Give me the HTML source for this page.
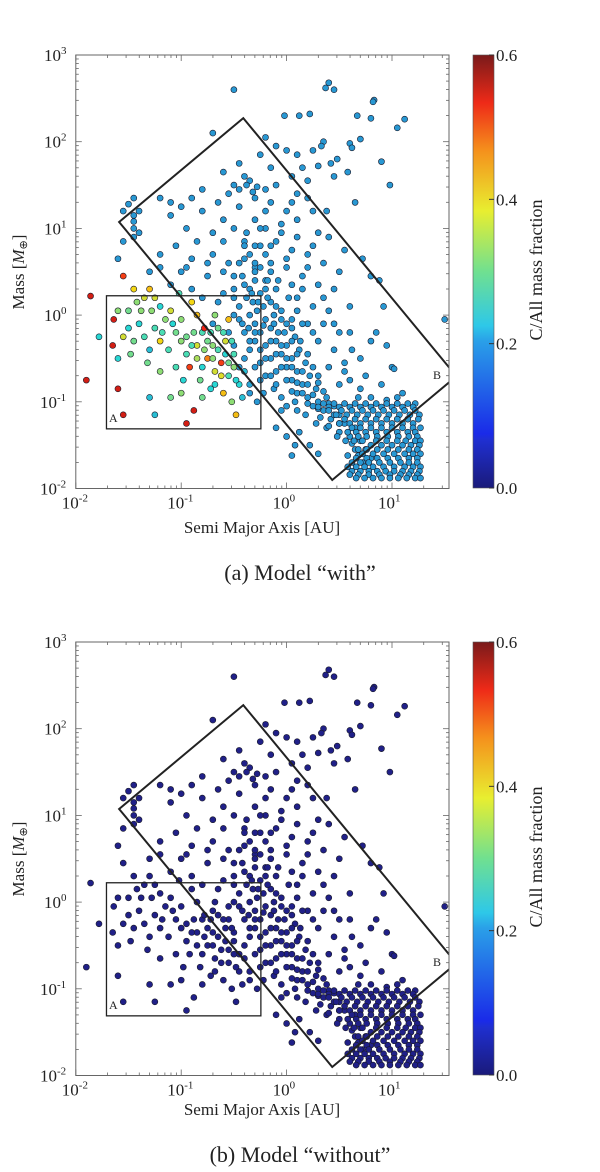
<!DOCTYPE html>
<html><head><meta charset="utf-8"><style>
body{margin:0;background:#fff;width:600px;height:1167px;overflow:hidden}
svg text{font-family:"Liberation Serif",serif;fill:#222}
</style></head><body>
<svg id="fig" width="600" height="1167" xmlns="http://www.w3.org/2000/svg">
<defs>
<linearGradient id="jet" x1="0" y1="1" x2="0" y2="0">
<stop offset="0" stop-color="#1a1a7a"/><stop offset="0.11" stop-color="#1f2fd0"/><stop offset="0.125" stop-color="#1a2ae8"/>
<stop offset="0.34" stop-color="#2aa0e8"/><stop offset="0.375" stop-color="#2ec8e8"/><stop offset="0.5" stop-color="#70e090"/>
<stop offset="0.64" stop-color="#e8ee30"/><stop offset="0.78" stop-color="#f5901c"/><stop offset="0.89" stop-color="#ee2a18"/>
<stop offset="1" stop-color="#7a1a1a"/></linearGradient>
<clipPath id="clipA"><rect x="75.8" y="55" width="373.2" height="433.5"/></clipPath>
<clipPath id="clipB"><rect x="75.8" y="642" width="373.2" height="433.5"/></clipPath>
</defs>
</svg>
<script>
const logA=[-0.5,0.4,0.37,0.45,0.83,0.82,1.12,1.05,-0.02,0.12,0.22,0.67,0.8,0.35,0.33,0.6,0.7,0.62,0.9,0.98,0.48,0.42,0.25,0.3,0.58,0.2,0.45,0.1,0.2,0.38,0.65,0.4,0.55,0.72,0.88,0.8,0.92,0.85,0.95,1.0,1.02,1.5,0.6,0.5,0.35,0.62,0.7,0.8,0.75,1.05,1.1,0.9,0.7,
-0.7,-0.2,-0.1,0.0,-0.25,-0.6,-0.4,-0.35,-0.2,-0.1,0.05,0.15,-0.5,-0.45,-0.38,-0.32,-0.55,-0.28,-0.15,0.05,0.25,-0.9,-1.0,-1.2,-1.45,-1.55,-1.45,-1.45,-1.45,-1.4,-0.8,-0.6,-0.5,-0.3,-0.2,-0.05,0.1,0.3,-0.7,-0.95,-1.1,-0.4,-0.25,-0.1,0.05,0.2,0.35,-0.85,-1.05,-1.2,-0.9,-0.7,-0.55,-0.4,-0.3,-0.15,0.0,0.15,0.3,0.45,-1.3,-1.55,-1.6,-1.0,-0.75,-0.5,-0.2,0.1,0.25,0.4,0.2,0.05,0.3,0.45,0.55,0.4,0.6,0.5,0.3,-0.9,-1.1,-0.6,-0.8,
-1.5,-1.45,-1.4,-1.1,-0.8,-0.65,-0.45,-0.2,0.0,-0.3,-0.6,-0.75,-0.95,-1.2,-0.05,0.1,0.2,0.35,0.45,0.6,0.55,0.68,0.8,0.95,0.5,0.25,-0.45,-0.15,0.1,
-0.4,-0.35,-0.3,-0.38,-0.32,-0.25,-0.2,-0.28,-0.22,-0.15,-0.35,-0.3,-0.2,-0.12,-0.05,-0.25,-0.15,-0.08,0.0,-0.3,-0.2,-0.1,0.0,0.08,-0.15,-0.05,0.05,0.12,-0.1,0.0,0.1,0.18,0.05,0.15,0.22,0.1,0.2,0.28,0.3,0.38,0.25,0.35,0.45,0.42,0.5,0.55,0.5,0.6,0.65,0.7,0.75,0.65,0.8,0.72,-0.45,-0.45,-0.5,-0.4,-0.35,-0.25,-0.2,-0.12,-0.05,0.0,0.1,0.18,0.28,0.38,-0.3,-0.4,-0.22,0.12,0.02,0.1,0.15,0.25,0.15,-0.08,0.05,-0.15,-0.25,-0.3,-0.2,-0.35,-0.3,-0.38,-0.25,0.22,0.3,0.08,
-0.42,-0.3,-0.18,-0.1,-0.33,-0.27,-0.18,-0.1,-0.05,-0.42,-0.36,-0.3,-0.22,-0.12,-0.02,0.05,-0.35,-0.25,-0.15,-0.05,0.05,0.13,-0.2,-0.1,0.0,0.1,0.2,-0.05,0.05,0.15,0.25,0.0,0.1,0.2,0.3,0.05,0.15,0.25,0.35,0.2,0.3,0.4,0.32,0.45,0.4,0.5,0.48,0.56,0.62,0.58,0.68,-0.1,-0.15,-0.25,0.08,-0.05,-0.5,-0.55,-0.5,-0.45,-0.35,-0.28,-0.45,-0.4,-0.15,0.0,-0.5,-0.6,-0.65,-0.7,
0.35,0.45,0.55,0.65,0.75,0.85,0.95,1.05,1.15,1.22,
0.3,0.4,0.5,0.6,0.7,0.8,0.9,1.0,1.1,1.2,
0.4,0.52,0.62,0.72,0.82,0.92,1.02,1.12,1.22,
0.47,0.57,0.67,0.77,0.87,0.97,1.07,1.17,1.26,
0.55,0.65,0.75,0.85,0.95,1.05,1.15,1.25,
0.5,0.6,0.7,0.8,0.9,1.0,1.1,1.2,
0.62,0.7,0.8,0.9,1.0,1.1,1.2,1.27,
0.58,0.66,0.75,0.85,0.95,1.05,1.15,1.22,
0.68,0.76,0.86,0.96,1.06,1.16,1.24,
0.64,0.72,0.85,0.95,1.05,1.13,1.22,1.27,
0.8,0.9,1.0,1.1,1.18,1.26,
0.68,0.76,0.86,0.96,1.06,1.16,1.24,
0.72,0.82,0.92,1.02,1.12,1.2,1.27,
0.66,0.76,0.86,0.96,1.06,1.16,1.24,
0.62,0.7,0.78,0.88,0.98,1.08,1.16,1.24,
0.58,0.66,0.74,0.82,0.92,1.02,1.12,1.2,1.27,
0.62,0.7,0.78,0.86,0.94,1.02,1.1,1.18,1.26,
0.6,0.68,0.78,0.88,0.98,1.08,1.16,1.24,
0.66,0.74,0.82,0.9,0.98,1.06,1.14,1.22,1.27,
0.0,-0.1,0.05];
const logM=[2.6,2.68,2.62,2.6,2.48,2.46,2.26,2.16,2.3,2.3,2.32,2.3,2.27,2.0,1.95,1.98,2.03,1.93,1.77,1.5,1.8,1.75,1.9,1.72,1.65,1.55,1.6,1.4,1.35,1.2,1.3,0.9,0.75,0.65,0.4,0.45,0.1,-0.2,-0.35,-0.6,-0.62,-0.05,0.1,-0.2,-0.1,-0.4,-0.5,-0.3,-0.7,-0.95,-0.9,-0.8,-0.85,
2.1,2.05,1.95,1.9,1.85,1.65,1.6,1.55,1.45,1.5,1.6,1.7,1.5,1.45,1.5,1.42,1.4,1.48,1.3,1.3,1.2,1.35,1.25,1.35,1.35,1.2,1.15,1.0,0.9,1.2,1.2,1.1,1.0,1.1,1.0,1.05,1.1,0.95,0.95,1.0,1.15,0.85,0.8,0.85,0.75,0.7,0.6,0.85,0.8,0.7,0.65,0.7,0.6,0.65,0.55,0.6,0.55,0.45,0.35,0.3,0.5,0.85,0.65,0.5,0.45,0.45,0.4,0.2,0.1,0.05,-0.1,-0.05,-0.3,-0.4,-0.55,-0.6,-0.75,-0.8,-0.7,0.3,0.35,0.25,0.2,
1.28,1.08,0.95,1.3,1.45,1.3,1.25,1.2,1.2,1.35,0.85,0.6,0.55,0.55,0.95,0.9,0.55,0.2,-0.1,-0.2,-0.65,-0.95,-0.95,-0.98,0.5,0.8,1.75,1.7,1.85,
0.35,0.3,0.4,0.2,0.15,0.25,0.3,0.05,0.1,0.15,0.0,-0.1,-0.05,0.0,0.05,-0.2,-0.15,-0.2,-0.1,-0.3,-0.35,-0.3,-0.35,-0.25,-0.5,-0.45,-0.5,-0.4,-0.65,-0.6,-0.65,-0.55,-0.75,-0.8,-0.7,-0.9,-0.95,-0.85,-1.0,-0.95,-1.05,-1.1,-1.05,-1.2,-1.15,-1.25,-1.35,-1.4,-1.3,-1.45,-1.55,-1.55,-1.65,-1.7,-0.05,0.1,0.2,-0.2,-0.4,-0.55,-0.7,-0.85,-0.95,-1.05,-1.1,-1.15,-1.25,-1.3,-0.6,-0.5,-0.9,-1.35,0.2,0.05,-0.1,-0.2,0.3,0.4,0.35,0.5,0.55,0.6,0.7,0.7,0.8,0.95,1.0,-1.5,-1.6,-1.5,
0.45,0.5,0.4,0.3,0.25,0.15,0.2,0.1,-0.05,-0.1,-0.15,-0.2,-0.12,-0.1,-0.2,-0.15,-0.3,-0.4,-0.3,-0.35,-0.3,-0.3,-0.5,-0.45,-0.5,-0.45,-0.45,-0.6,-0.6,-0.65,-0.6,-0.75,-0.78,-0.8,-0.78,-0.88,-0.9,-0.92,-0.88,-1.02,-1.08,-1.02,-1.18,-1.15,-1.28,-1.25,-1.4,-1.45,-1.48,-1.62,-1.62,-0.8,-0.7,-0.75,-1.0,-1.1,0.0,-0.2,-0.35,-0.6,-0.9,-1.0,0.6,0.8,0.8,0.65,0.3,0.5,0.15,-0.1,
-1.02,-1.02,-1.02,-1.02,-1.02,-1.02,-1.02,-1.02,-1.02,-1.02,
-1.06,-1.06,-1.06,-1.06,-1.06,-1.06,-1.06,-1.06,-1.06,-1.06,
-1.1,-1.1,-1.1,-1.1,-1.1,-1.1,-1.1,-1.1,-1.1,
-1.15,-1.15,-1.15,-1.15,-1.15,-1.15,-1.15,-1.15,-1.15,
-1.2,-1.2,-1.2,-1.2,-1.2,-1.2,-1.2,-1.2,
-1.25,-1.25,-1.25,-1.25,-1.25,-1.25,-1.25,-1.25,
-1.3,-1.3,-1.3,-1.3,-1.3,-1.3,-1.3,-1.3,
-1.35,-1.35,-1.35,-1.35,-1.35,-1.35,-1.35,-1.35,
-1.4,-1.4,-1.4,-1.4,-1.4,-1.4,-1.4,
-1.45,-1.45,-1.45,-1.45,-1.45,-1.45,-1.45,-1.45,
-1.5,-1.5,-1.5,-1.5,-1.5,-1.5,
-1.55,-1.55,-1.55,-1.55,-1.55,-1.55,-1.55,
-1.6,-1.6,-1.6,-1.6,-1.6,-1.6,-1.6,
-1.65,-1.65,-1.65,-1.65,-1.65,-1.65,-1.65,
-1.7,-1.7,-1.7,-1.7,-1.7,-1.7,-1.7,-1.7,
-1.75,-1.75,-1.75,-1.75,-1.75,-1.75,-1.75,-1.75,-1.75,
-1.8,-1.8,-1.8,-1.8,-1.8,-1.8,-1.8,-1.8,-1.8,
-1.84,-1.84,-1.84,-1.84,-1.84,-1.84,-1.84,-1.84,
-1.88,-1.88,-1.88,-1.88,-1.88,-1.88,-1.88,-1.88,-1.88,
-1.4,-1.3,-1.62];
// region A points: colored in model "with"
const aLogA=[-1.86,-1.64,-1.78,-1.65,-1.6,-1.55,-1.55,-1.6,-1.6,-1.5,-1.45,-1.42,-1.4,-1.35,-1.35,-1.3,-1.3,-1.28,-1.25,-1.2,-1.2,-1.15,-1.12,-1.1,-1.05,-1.0,-0.95,-0.92,-0.9,-0.85,-0.82,-0.8,-0.75,-0.72,-0.7,-0.68,-0.65,-0.62,-0.6,-0.58,-0.55,-0.52,-0.5,-0.48,-0.45,-1.25,-1.1,-1.0,-0.88,-0.95,-1.3,-1.55,-1.48,-0.78,-0.85,-1.02,-0.68,-0.55,-0.4,-0.42,-0.35,-1.9,
-1.5,-1.45,-1.38,-1.25,-1.18,-1.08,-1.0,-0.95,-0.9,-0.85,-0.8,-0.75,-0.7,-0.65,-0.62,-0.58,-0.55,-0.52,-0.5,-0.48,-0.72,-0.78,-0.88,-0.68,-0.6,-1.32,-1.2,-1.05,-0.98,-0.8];
const aLogM=[0.22,-0.05,-0.25,-0.35,-0.85,-1.15,0.45,0.05,-0.5,0.05,0.3,0.15,-0.1,0.2,-0.25,0.3,-0.4,0.05,-0.15,0.1,-0.3,-0.05,-0.4,0.05,-0.2,-0.3,-0.45,-0.6,0.15,-0.35,-0.75,-0.2,-0.5,-0.85,-0.35,-0.65,-0.15,-0.55,-0.9,-0.3,-0.7,-1.0,-0.45,-1.15,-0.8,-1.15,-0.95,-0.9,-1.1,-1.25,-0.95,-0.25,-0.45,-0.15,0.0,0.25,0.0,-0.05,-0.65,-0.95,-0.8,-0.75,
-0.15,-0.3,0.05,0.2,-0.2,-0.1,-0.05,-0.25,-0.35,-0.5,-0.6,-0.3,-0.5,-0.4,-0.7,-0.45,-0.55,-0.3,-0.6,-0.75,-0.2,-0.4,-0.2,-0.8,-0.2,-0.55,-0.65,-0.6,-0.75,-0.95];
const aFrac=[0.55,0.55,0.22,0.55,0.55,0.55,0.5,0.3,0.22,0.28,0.38,0.3,0.22,0.35,0.25,0.4,0.2,0.3,0.25,0.22,0.38,0.3,0.25,0.35,0.28,0.3,0.25,0.5,0.38,0.35,0.28,0.25,0.45,0.22,0.3,0.35,0.28,0.5,0.4,0.35,0.25,0.3,0.25,0.4,0.22,0.2,0.28,0.3,0.55,0.55,0.2,0.35,0.28,0.52,0.4,0.25,0.3,0.4,0.2,0.2,0.18,0.55,
0.22,0.28,0.3,0.35,0.25,0.22,0.3,0.28,0.25,0.32,0.22,0.28,0.3,0.25,0.36,0.22,0.28,0.25,0.3,0.22,0.25,0.3,0.28,0.22,0.25,0.28,0.3,0.25,0.22,0.28];
const mainFrac=0.17;
const yTicks=["3","2","1","0","-1","-2"];
const xTicks=["-2","-1","0","1"];
const cbTicks=["0.0","0.2","0.4","0.6"];

const NS="http://www.w3.org/2000/svg";
const svg=document.getElementById('fig');
const X0=75.8,DX=105.4,Y0=55,DY=86.7,W=373.2,H=433.5;
function xs(l){return X0+(l+2)*DX;}
function ys(l,off){return off+Y0+(3-l)*DY;}
function el(t,a,p){const e=document.createElementNS(NS,t);for(const k in a)e.setAttribute(k,a[k]);(p||svg).appendChild(e);return e;}
function jet(v){const t=Math.max(0,Math.min(1,v/0.6));
 const c=x=>Math.round(255*Math.max(0,Math.min(1,1.5-Math.abs(x))));
 let r=c(4*t-3),g=c(4*t-2),b=c(4*t-1);
 r=Math.round(r*0.8+40);g=Math.round(g*0.75+30);b=Math.round(b*0.75+20);
 return `rgb(${r},${g},${b})`;}
function panel(off,colored,cap,key,tshift){
 const g=el('g',{});
 
 
 const pts=el('g',{'clip-path':`url(#clip${key==='with'?'A':'B'})`},g);
 
 
 const mainCol=colored?jet(mainFrac):'#202088';
 for(let i=0;i<logA.length;i++){
  const c=el('circle',{cx:xs(logA[i]),cy:ys(logM[i],off),r:3,fill:mainCol,stroke:'#1a1a2a','stroke-width':0.6},pts);
  
  
 }
 for(let i=0;i<aLogA.length;i++){
  const c=el('circle',{cx:xs(aLogA[i]),cy:ys(aLogM[i],off),r:3,fill:colored?jet(aFrac[i]):'#202088',stroke:'#1a1a2a','stroke-width':0.6},pts);
  
  
 }
 const bA=el('rect',{x:xs(-1.709),y:ys(0.223,off),width:xs(-0.244)-xs(-1.709),height:ys(-1.312,off)-ys(0.223,off),fill:'none',stroke:'#222','stroke-width':1.3},g);
 
 
 const bB=el('polygon',{points:`${xs(-1.589)},${ys(1.074,off)} ${xs(-0.411)},${ys(2.272,off)} ${xs(1.611)},${ys(-0.705,off)} ${xs(0.433)},${ys(-1.902,off)}`,fill:'none',stroke:'#222','stroke-width':2,'clip-path':`url(#clip${key==='with'?'A':'B'})`},g);
 
 
 const la=el('text',{x:109,y:off+422,'font-size':12},g);la.textContent='A';
 
 
 const lb=el('text',{x:433,y:off+379,'font-size':12},g);lb.textContent='B';
 
 
 const fr=el('rect',{x:X0,y:off+Y0,width:W,height:H,fill:'none',stroke:'#666','stroke-width':1},g);
 
 
 for(let d=-2;d<=1;d++){for(let m=1;m<10;m++){const l=d+Math.log10(m);const x=xs(l);if(x>X0+W)break;const len=m===1?6:3;
  el('line',{x1:x,x2:x,y1:off+Y0+H,y2:off+Y0+H-len,stroke:'#666','stroke-width':0.8},g);
  el('line',{x1:x,x2:x,y1:off+Y0,y2:off+Y0+len,stroke:'#666','stroke-width':0.8},g);}}
 for(let d=-2;d<=2;d++){for(let m=1;m<10;m++){const y=ys(d+Math.log10(m),off);const len=m===1?6:3;
  el('line',{x1:X0,x2:X0+len,y1:y,y2:y,stroke:'#666','stroke-width':0.8},g);
  el('line',{x1:X0+W,x2:X0+W-len,y1:y,y2:y,stroke:'#666','stroke-width':0.8},g);}}
 xTicks.forEach(t=>{const x=xs(+t);const tx=el('text',{x:x-14,y:off+Y0+H+20,'font-size':17},g);
  tx.innerHTML=`10<tspan dy="-7" font-size="11">${t}</tspan>`;
  
  });
 yTicks.forEach(t=>{const y=ys(+t,off);const tx=el('text',{x:t.startsWith('-')?40:44,y:y+6,'font-size':17},g);
  tx.innerHTML=`10<tspan dy="-7" font-size="11">${t}</tspan>`;
  
  });
 const xl=el('text',{x:262,y:off+533-tshift,'font-size':17,'text-anchor':'middle'},g);xl.textContent='Semi Major Axis [AU]';
 
 
 const yl=el('text',{transform:`translate(24,${off+272}) rotate(-90)`,'font-size':17,'text-anchor':'middle'},g);
 yl.innerHTML='Mass [<tspan font-style="italic">M</tspan><tspan font-size="11" dy="3">⊕</tspan><tspan dy="-3">]</tspan>';
 
 
 const cb=el('rect',{x:473,y:off+55,width:21,height:433,fill:'url(#jet)',stroke:'#555','stroke-width':0.6},g);
 
 
 cbTicks.forEach(t=>{const y=off+488-(+t)/0.6*433;
  el('line',{x1:494,x2:489,y1:y,y2:y,stroke:'#333'},g);
  const tx=el('text',{x:496,y:y+6,'font-size':17},g);tx.textContent=t;
  
  });
 const cl=el('text',{transform:`translate(542,${off+270}) rotate(-90)`,'font-size':18,'text-anchor':'middle'},g);cl.textContent='C/All mass fraction';
 
 
 const cp=el('text',{x:300,y:off+580-tshift,'font-size':22,'text-anchor':'middle'},g);cp.textContent=cap;
 
 
}
panel(0,true,'(a) Model “with”','with',0);
panel(587,false,'(b) Model “without”','without',5);
</script>
</body></html>
